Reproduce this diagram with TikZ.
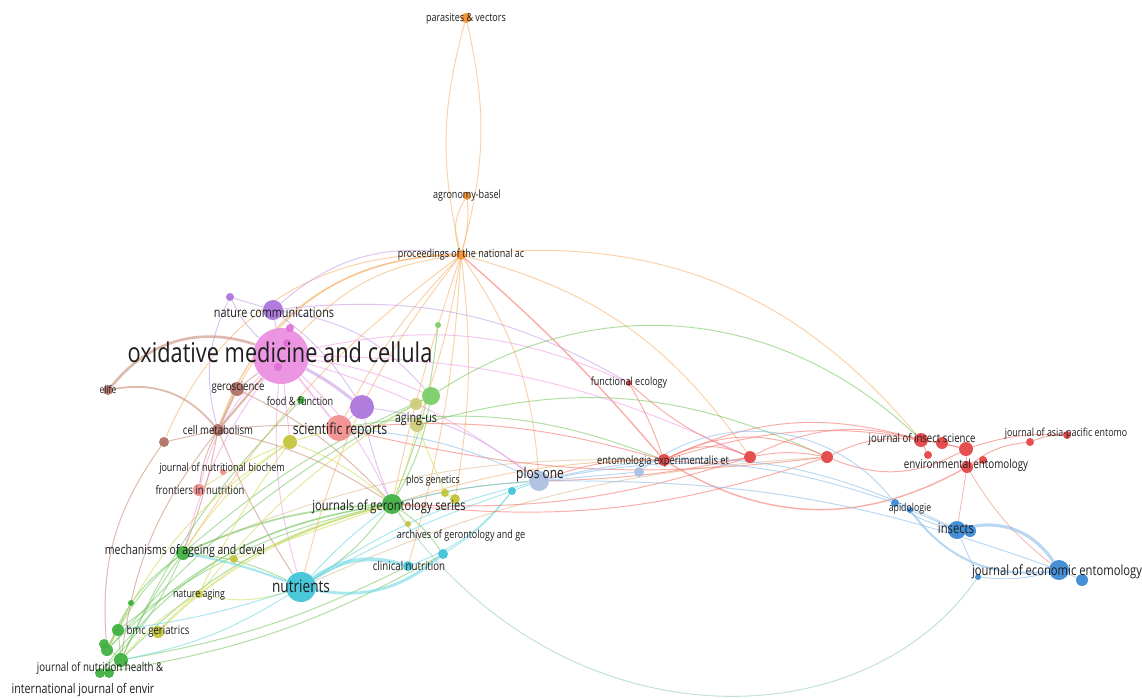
\documentclass[tikz,border=0pt]{standalone}
\usepackage{fontspec}
\setmainfont{Open Sans}[FakeStretch=0.8]
\pgfdeclarelayer{bg}
\pgfsetlayers{bg,main}
% node colours
\definecolor{orN}{RGB}{245,140,40}
\definecolor{puN}{RGB}{170,115,220}
\definecolor{pkN}{RGB}{235,140,225}
\definecolor{pkD}{RGB}{222,110,212}
\definecolor{brN}{RGB}{175,110,100}
\definecolor{gnN}{RGB}{60,175,60}
\definecolor{lgN}{RGB}{120,205,100}
\definecolor{yeN}{RGB}{195,195,55}
\definecolor{khN}{RGB}{205,205,120}
\definecolor{cyN}{RGB}{60,195,215}
\definecolor{rdN}{RGB}{228,65,65}
\definecolor{blN}{RGB}{55,135,210}
\definecolor{lbN}{RGB}{170,190,225}
\definecolor{saN}{RGB}{240,140,140}
% edge colours
\definecolor{orE}{RGB}{247,180,110}
\definecolor{puE}{RGB}{200,160,230}
\definecolor{pkE}{RGB}{240,160,230}
\definecolor{brE}{RGB}{200,140,120}
\definecolor{gnE}{RGB}{120,200,100}
\definecolor{yeE}{RGB}{210,220,90}
\definecolor{cyE}{RGB}{110,215,230}
\definecolor{rdE}{RGB}{245,120,110}
\definecolor{blE}{RGB}{140,190,235}
\definecolor{tnE}{RGB}{220,190,150}
\definecolor{tlE}{RGB}{150,205,190}
\definecolor{txt}{RGB}{30,30,30}
\tikzset{
  nd/.style={circle, inner sep=0pt, minimum size={2*#1*0.02cm}, draw=none, fill opacity=0.92},
  ed/.style={draw=#1, line width=0.55pt, draw opacity=0.6},
  lb/.style={font=\fontsize{#1}{#1}\selectfont, text=txt, inner sep=0pt},
}
\begin{document}
\begin{tikzpicture}[x=0.02cm, y=-0.02cm]
\useasboundingbox (0,0) rectangle (1142,697);
\begin{pgfonlayer}{bg}
\fill[white] (0,0) rectangle (1142,697);
\end{pgfonlayer}
% ---------------- nodes ----------------
\node[nd=5, fill=orN] (par) at (466,18) {};
\node[nd=4, fill=orN] (agr) at (467,196) {};
\node[nd=5, fill=orN] (pna) at (461,255) {};
\node[nd=4, fill=puN] (pu1) at (230,297) {};
\node[nd=28, fill=pkN] (oxi) at (281,356) {};
\node[nd=10, fill=puN] (ncom) at (273,310) {};
\node[nd=4, fill=pkD] (pk1) at (290,328) {};
\node[nd=4, fill=pkD] (pk2) at (287,343) {};
\node[nd=4, fill=pkD] (pk3) at (278,367) {};
\node[nd=12, fill=puN] (pub) at (362,407) {};
\node[nd=5, fill=brN] (elife) at (108,390) {};
\node[nd=7, fill=brN] (gero) at (237,389) {};
\node[nd=6, fill=brN] (cellm) at (218,430) {};
\node[nd=5, fill=brN] (br1) at (164,442) {};
\node[nd=4, fill=gnN] (ff) at (301,400) {};
\node[nd=3, fill=lgN] (gs1) at (438,325) {};
\node[nd=9, fill=lgN] (agus) at (431,396) {};
\node[nd=6, fill=khN] (ye1) at (416,404) {};
\node[nd=7, fill=khN] (ye2) at (417,425) {};
\node[nd=13, fill=saN] (scir) at (339,428) {};
\node[nd=7, fill=yeN] (ye3) at (290,442) {};
\node[nd=3, fill=saN] (jnb) at (223,472) {};
\node[nd=6, fill=saN] (fin) at (199,490) {};
\node[nd=4, fill=yeN] (ye4) at (445,493) {};
\node[nd=5, fill=yeN] (ye5) at (455,499) {};
\node[nd=10, fill=gnN] (jgs) at (392,504) {};
\node[nd=3, fill=yeN] (ye6) at (408,524) {};
\node[nd=4, fill=cyN] (cy1) at (512,491) {};
\node[nd=10, fill=lbN] (plos) at (539,481) {};
\node[nd=5, fill=cyN] (cy2) at (443,554) {};
\node[nd=5, fill=cyN] (clin) at (408,566) {};
\node[nd=7, fill=gnN] (mech) at (183,553) {};
\node[nd=4, fill=yeN] (ye7) at (234,559) {};
\node[nd=15, fill=cyN] (nutr) at (301,587) {};
\node[nd=4, fill=yeN] (nage) at (199,594) {};
\node[nd=3, fill=gnN] (gn1) at (131,603) {};
\node[nd=6, fill=gnN] (gn2) at (118,630) {};
\node[nd=6, fill=yeN] (ye8) at (158,632) {};
\node[nd=5, fill=gnN] (gn3) at (104,644) {};
\node[nd=6, fill=gnN] (gn4) at (107,650) {};
\node[nd=7, fill=gnN] (gn5) at (121,660) {};
\node[nd=5, fill=gnN] (gn6) at (100,673) {};
\node[nd=5, fill=gnN] (gn7) at (109,673) {};
\node[nd=3, fill=rdN] (fec) at (629,383) {};
\node[nd=5, fill=lbN] (lb1) at (639,472) {};
\node[nd=6, fill=rdN] (ent) at (664,460) {};
\node[nd=6, fill=rdN] (rd1) at (750,457) {};
\node[nd=6, fill=rdN] (rd2) at (827,457) {};
\node[nd=7, fill=rdN] (jis) at (921,440) {};
\node[nd=6, fill=rdN] (rd3) at (942,443) {};
\node[nd=7, fill=rdN] (rd4) at (966,449) {};
\node[nd=4, fill=rdN] (rd5) at (928,455) {};
\node[nd=6, fill=rdN] (env) at (967,467) {};
\node[nd=4, fill=rdN] (rd6) at (983,460) {};
\node[nd=4, fill=rdN] (rd7) at (1030,442) {};
\node[nd=4, fill=rdN] (asia) at (1067,435) {};
\node[nd=4, fill=blN] (bl1) at (895,503) {};
\node[nd=3, fill=blN] (bl2) at (910,510) {};
\node[nd=9, fill=blN] (ins) at (957,530) {};
\node[nd=6, fill=blN] (bl3) at (970,531) {};
\node[nd=10, fill=blN] (jee) at (1059,570) {};
\node[nd=6, fill=blN] (bl4) at (1082,580) {};
\node[nd=3, fill=blN] (bl5) at (978,577) {};
% ---------------- edges ----------------
\begin{pgfonlayer}{bg}
% orange
\draw[ed=orE] (pna) to[bend left=14] (par);
\draw[ed=orE] (pna) to[bend right=14] (par);
\draw[ed=orE] (pna) to[bend left=25] (agr);
\draw[ed=orE] (pna) to[bend right=10] (agr);
\draw[ed=orE, line width=0.9pt] (pna) to[bend right=35] (cellm);
\draw[ed=orE] (pna) to[bend right=30] (gero);
\draw[ed=orE] (pna) to[bend right=20] (oxi);
\draw[ed=orE] (pna) to[bend right=35] (br1);
\draw[ed=orE] (pna) to[bend right=8] (scir);
\draw[ed=orE] (pna) to[bend right=3] (jgs);
\draw[ed=orE] (pna) to[bend left=5] (ye2);
\draw[ed=orE] (pna) to[bend right=10] (mech);
\draw[ed=orE] (pna) to[bend left=6] (clin);
\draw[ed=orE] (pna) to[bend left=15] (plos);
\draw[ed=rdE, line width=0.8pt] (pna) to[bend left=4] (ent);
\draw[ed=orE] (pna) to[bend left=20] (rd1);
\draw[ed=orE] (pna) to[bend left=28] (jis);
\draw[ed=orE] (pna) to[bend left=8] (ye5);
\draw[ed=orE] (pna) to[bend right=12] (nutr);
\draw[ed=orE] (jgs) to[bend left=8] (ent);
\draw[ed=tnE] (nutr) to[bend left=10] (rd2);
\draw[ed=tnE] (mech) to[bend left=12] (ent);
% purple
\draw[ed=puE] (pu1) -- (ncom);
\draw[ed=puE] (pu1) to[bend right=10] (oxi);
\draw[ed=puE] (pu1) to[bend right=20] (cellm);
\draw[ed=puE] (ncom) -- (oxi);
\draw[ed=puE] (ncom) to[bend left=10] (pub);
\draw[ed=puE, line width=1.8pt] (oxi) to[bend left=5] (pub);
\draw[ed=puE] (ncom) to[bend left=25] (pna);
\draw[ed=puE] (ncom) to[bend left=20] (agus);
\draw[ed=puE] (pub) to[bend left=15] (plos);
\draw[ed=puE] (ncom) to[bend left=18] (fec);
\draw[ed=puE] (pub) to[bend right=5] (jgs);
\draw[ed=puE] (pub) -- (scir);
% pink
\draw[ed=pkE, line width=1pt] (oxi) -- (scir);
\draw[ed=pkE] (oxi) to[bend left=8] (agus);
\draw[ed=pkE] (oxi) to[bend left=10] (jgs);
\draw[ed=pkE] (oxi) to[bend left=18] (fec);
\draw[ed=pkE] (oxi) to[bend left=12] (rd1);
\draw[ed=pkE] (oxi) to[bend left=10] (plos);
\draw[ed=pkE] (oxi) to[bend right=10] (nutr);
\draw[ed=pkE] (oxi) -- (ye3);
\draw[ed=pkE] (oxi) to[bend right=15] (fin);
\draw[ed=pkE] (oxi) to[bend right=10] (mech);
% brown
\draw[ed=brE, line width=1.5pt] (elife) to[bend left=35] (oxi);
\draw[ed=brE, line width=1pt] (cellm) to[bend right=30] (elife);
\draw[ed=brE, line width=1.2pt] (cellm) -- (gero);
\draw[ed=brE, line width=1.2pt] (cellm) -- (oxi);
\draw[ed=brE] (cellm) -- (br1);
\draw[ed=brE] (cellm) to[bend right=10] (fin);
\draw[ed=brE] (cellm) to[bend right=15] (gn5);
\draw[ed=brE] (br1) to[bend right=20] (gn4);
\draw[ed=brE] (cellm) to[bend left=5] (mech);
\draw[ed=brE] (cellm) to[bend right=5] (nutr);
\draw[ed=brE] (cellm) to[bend left=5] (scir);
\draw[ed=brE] (gero) -- (oxi);
\draw[ed=brE] (gero) to[bend left=10] (jgs);
\draw[ed=brE] (cellm) to[bend left=10] (jgs);
% green
\draw[ed=gnE, line width=1pt] (jgs) to[bend right=10] (mech);
\draw[ed=gnE] (jgs) to[bend right=15] (gn5);
\draw[ed=gnE] (jgs) to[bend right=12] (gn2);
\draw[ed=gnE] (jgs) to[bend right=18] (gn4);
\draw[ed=gnE] (jgs) to[bend right=22] (gn6);
\draw[ed=gnE] (jgs) to[bend left=10] (nutr);
\draw[ed=gnE] (jgs) to[bend right=10] (agus);
\draw[ed=gnE] (jgs) to[bend right=8] (gs1);
\draw[ed=gnE] (mech) to[bend right=10] (gn2);
\draw[ed=gnE] (mech) to[bend right=15] (gn4);
\draw[ed=gnE] (mech) to[bend left=10] (gn6);
\draw[ed=gnE] (mech) to[bend right=5] (gn5);
\draw[ed=gnE] (mech) to[bend left=10] (nutr);
\draw[ed=gnE] (agus) to[bend right=10] (gn4);
\draw[ed=gnE] (agus) to[bend right=8] (mech);
\draw[ed=gnE] (agus) to[bend left=38] (jis);
\draw[ed=gnE] (scir) to[bend left=15] (ent);
\draw[ed=gnE] (ye2) to[bend left=20] (rd2);
\draw[ed=gnE] (ff) to[bend right=10] (gn5);
\draw[ed=gnE] (gn1) -- (gn4);
\draw[ed=gnE] (gn2) -- (gn4);
\draw[ed=gnE] (gn3) -- (gn5);
\draw[ed=gnE] (gn6) -- (gn5);
\draw[ed=gnE] (gn7) -- (gn5);
\draw[ed=gnE] (gn2) -- (gn5);
\draw[ed=gnE] (jgs) to[bend left=5] (plos);
\draw[ed=gnE] (jgs) to[bend left=10] (cy2);
\draw[ed=gnE] (gn6) to[bend right=10] (cy2);
\draw[ed=gnE] (gn5) to[bend right=8] (clin);
% yellow
\draw[ed=yeE] (ye3) to[bend right=5] (nage);
\draw[ed=yeE] (ye3) to[bend right=10] (mech);
\draw[ed=yeE] (ye3) -- (scir);
\draw[ed=yeE] (ye3) to[bend right=15] (gn4);
\draw[ed=yeE] (nage) to[bend right=10] (gn5);
\draw[ed=yeE] (nage) to[bend left=10] (jgs);
\draw[ed=yeE] (ye7) -- (jgs);
\draw[ed=yeE] (ye8) to[bend left=15] (jgs);
\draw[ed=yeE] (ye4) -- (ye5);
\draw[ed=yeE] (ye1) to[bend right=10] (nage);
\draw[ed=yeE] (ye2) to[bend left=5] (jgs);
\draw[ed=yeE] (ye3) to[bend left=10] (jgs);
\draw[ed=yeE] (nage) to[bend right=15] (nutr);
\draw[ed=yeE] (ye3) to[bend right=5] (fin);
\draw[ed=yeE] (ye8) to[bend left=5] (nage);
\draw[ed=yeE] (ye2) -- (ye4);
\draw[ed=yeE] (ye6) -- (jgs);
% cyan
\draw[ed=cyE, line width=2.2pt] (nutr) to[bend left=25] (clin);
\draw[ed=cyE, line width=1.6pt] (nutr) to[bend right=25] (cy2);
\draw[ed=cyE, line width=1.2pt] (nutr) to[bend right=5] (mech);
\draw[ed=cyE] (nutr) to[bend left=10] (plos);
\draw[ed=cyE] (nutr) to[bend left=5] (cy1);
\draw[ed=cyE] (clin) to[bend right=15] (cy1);
\draw[ed=cyE] (cy2) to[bend right=10] (cy1);
\draw[ed=cyE] (nutr) to[bend left=10] (gn5);
\draw[ed=cyE] (nutr) to[bend left=5] (gn2);
\draw[ed=cyE] (cy1) -- (plos);
\draw[ed=cyE] (nutr) to[bend left=5] (jgs);
% red
\draw[ed=rdE] (fec) to[bend left=5] (ent);
\draw[ed=rdE] (fec) to[bend right=10] (rd1);
\draw[ed=rdE] (ent) to[bend left=25] (rd1);
\draw[ed=rdE] (ent) to[bend right=8] (rd1);
\draw[ed=rdE] (ent) to[bend left=25] (rd2);
\draw[ed=rdE] (rd1) to[bend left=10] (rd2);
\draw[ed=rdE] (ent) to[bend left=20] (jis);
\draw[ed=rdE] (ent) to[bend left=15] (rd4);
\draw[ed=rdE] (rd1) to[bend left=20] (jis);
\draw[ed=rdE] (rd2) to[bend left=15] (jis);
\draw[ed=rdE, line width=0.8pt] (ent) to[bend right=30] (env);
\draw[ed=rdE] (rd2) to[bend right=25] (rd4);
\draw[ed=rdE] (jis) -- (rd3);
\draw[ed=rdE] (rd3) -- (rd4);
\draw[ed=rdE] (jis) -- (rd5);
\draw[ed=rdE] (rd4) -- (env);
\draw[ed=rdE] (env) -- (rd6);
\draw[ed=rdE] (env) to[bend left=15] (rd7);
\draw[ed=rdE] (rd7) to[bend left=10] (asia);
\draw[ed=rdE] (rd4) to[bend left=10] (asia);
\draw[ed=rdE, line width=0.4pt] (env) to[bend right=10] (jee);
\draw[ed=rdE, line width=0.4pt] (env) -- (ins);
\draw[ed=rdE] (ent) to[bend right=10] (plos);
\draw[ed=rdE] (rd1) to[bend left=10] (jgs);
\draw[ed=rdE] (rd2) to[bend left=12] (jgs);
\draw[ed=rdE] (rd1) to[bend left=5] (plos);
\draw[ed=rdE] (rd2) to[bend left=10] (scir);
\draw[ed=rdE] (ent) to[bend right=10] (scir);
% light blue / blue
\draw[ed=blE] (plos) to[bend left=20] (ins);
\draw[ed=blE] (plos) to[bend left=15] (bl1);
\draw[ed=blE] (lb1) to[bend left=45] (bl1);
\draw[ed=blE] (plos) to[bend left=10] (jee);
\draw[ed=blE] (plos) -- (lb1);
\draw[ed=blE] (plos) to[bend right=5] (jgs);
\draw[ed=blE] (plos) to[bend right=10] (scir);
\draw[ed=blE] (ins) to[bend left=10] (bl1);
\draw[ed=blE] (bl1) -- (bl2);
\draw[ed=blE] (bl2) -- (ins);
\draw[ed=blE, line width=1.8pt] (ins) to[bend left=35] (jee);
\draw[ed=blE, line width=1.2pt] (bl2) to[bend right=30] (jee);
\draw[ed=blE] (ins) -- (bl3);
\draw[ed=blE] (jee) -- (bl4);
\draw[ed=blE] (jee) to[bend left=10] (bl5);
\draw[ed=blE] (bl5) -- (ins);
\draw[ed=tlE] (jgs) .. controls (560,745) and (860,745) .. (bl5);
\end{pgfonlayer}
% ---------------- labels ----------------
\node[lb=6.4] (l-par) at (466,19) {parasites \& vectors};
\node[lb=6.4] (l-agr) at (467,196) {agronomy-basel};
\node[lb=6.4] (l-pna) at (461,255) {proceedings of the national ac};
\node[lb=7.7] (l-ncom) at (274,313) {nature communications};
\node[lb=15.5] (l-oxi) at (280,352) {oxidative medicine and cellula};
\node[lb=6] (l-elife) at (108,390) {elife};
\node[lb=6.8] (l-gero) at (238,388) {geroscience};
\node[lb=6.5] (l-ff) at (300,401) {food \& function};
\node[lb=7.6] (l-agus) at (416,419) {aging-us};
\node[lb=8.7] (l-scir) at (340,430) {scientific reports};
\node[lb=6.8] (l-cellm) at (218,430) {cell metabolism};
\node[lb=6.4] (l-jnb) at (222,469) {journal of nutritional biochem};
\node[lb=6.7] (l-fin) at (200,490) {frontiers in nutrition};
\node[lb=6.3] (l-plg) at (433,481) {plos genetics};
\node[lb=7.9] (l-jgs) at (389,507) {journals of gerontology series};
\node[lb=6.4] (l-arch) at (461,536) {archives of gerontology and ge};
\node[lb=8.5] (l-plos) at (540,475) {plos one};
\node[lb=6.9] (l-clin) at (409,566) {clinical nutrition};
\node[lb=7.5] (l-mech) at (185,551) {mechanisms of ageing and devel};
\node[lb=9.7] (l-nutr) at (301,586) {nutrients};
\node[lb=6.3] (l-nage) at (199,595) {nature aging};
\node[lb=6.8] (l-bmc) at (158,631) {bmc geriatrics};
\node[lb=6.9] (l-jnh) at (100,668) {journal of nutrition health \&};
\node[lb=7.6] (l-ije) at (83,690) {international journal of envir};
\node[lb=6.4] (l-fec) at (629,383) {functional ecology};
\node[lb=6.6] (l-ent) at (663,461) {entomologia experimentalis et};
\node[lb=6.8] (l-jis) at (922,439) {journal of insect science};
\node[lb=7] (l-env) at (966,465) {environmental entomology};
\node[lb=6.3] (l-asia) at (1066,434) {journal of asia-pacific entomo};
\node[lb=6.2] (l-api) at (910,509) {apidologie};
\node[lb=8] (l-ins) at (956,528) {insects};
\node[lb=8] (l-jee) at (1057,572) {journal of economic entomology};
\end{tikzpicture}
\end{document}
